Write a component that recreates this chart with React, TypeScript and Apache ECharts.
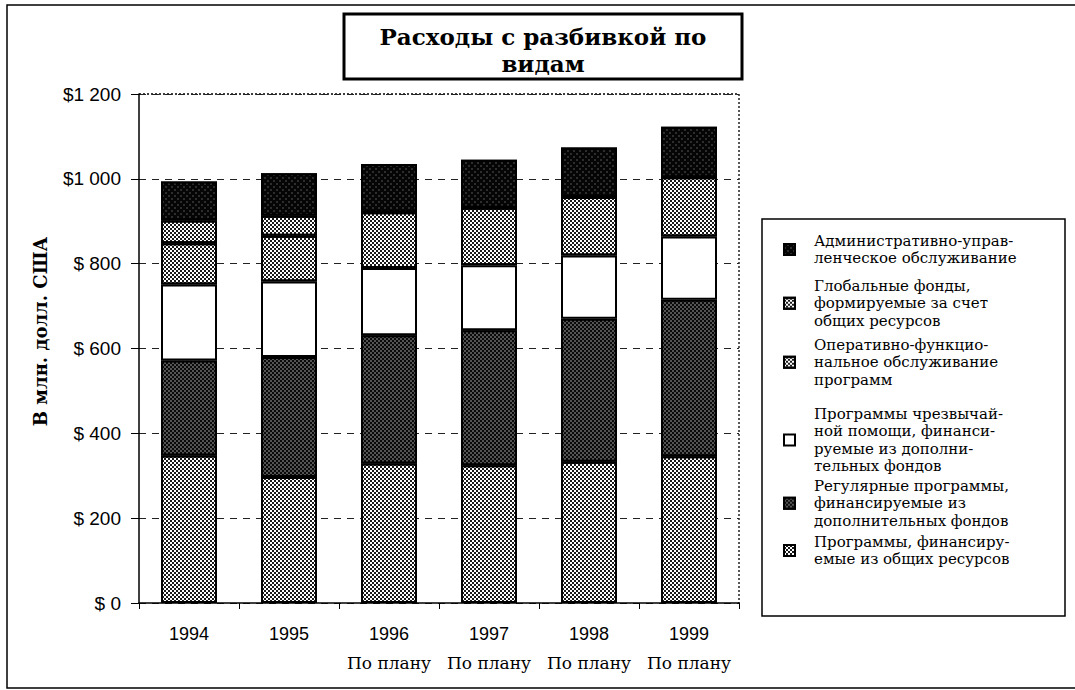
import React, { useEffect, useRef } from "react";
import * as echarts from "echarts";

const years = ["1994", "1995", "1996", "1997", "1998", "1999"];
const planned = [false, false, true, true, true, true];
const planLabel = "По плану";
const yTickValues = [0, 200, 400, 600, 800, 1000, 1200];

const programsGeneral = [348, 297, 329, 325, 333, 346];
const regularSupplementary = [224, 283, 302, 318, 337, 369];
const emergency = [179, 178, 159, 153, 149, 149];
const operational = [97, 108, 131, 136, 138, 140];
const globalFunds = [54, 47, 0, 0, 0, 0];
const admin = [92, 100, 114, 113, 117, 119];

const names = [
  "Административно-управ-\nленческое обслуживание",
  "Глобальные фонды,\nформируемые за счет\nобщих ресурсов",
  "Оперативно-функцио-\nнальное обслуживание\nпрограмм",
  "Программы чрезвычай-\nной помощи, финанси-\nруемые из дополни-\nтельных фондов",
  "Регулярные программы,\nфинансируемые из\nдополнительных фондов",
  "Программы, финансиру-\nемые из общих ресурсов",
];
const legendTops = [232, 277, 336, 405, 477, 533];

const GRID = { left: 139, right: 336, top: 94, bottom: 87 };
const W = 1075;
const H = 690;

const lightDecal = {
  symbol: "rect",
  symbolSize: 0.9,
  color: "#000",
  dashArrayX: [[2, 2], [0, 2, 2, 0]],
  dashArrayY: [2, 0],
  rotation: 0,
};
const darkDecal = {
  symbol: "rect",
  symbolSize: 0.6,
  color: "#fff",
  dashArrayX: [[2, 2], [0, 2, 2, 0]],
  dashArrayY: [2, 0],
  rotation: 0,
};
const adminDecal = {
  symbol: "rect",
  symbolSize: 0.6,
  color: "#8a8a8a",
  dashArrayX: [[2, 4], [0, 3, 2, 1]],
  dashArrayY: [2, 1],
  rotation: 0,
};

function fmtY(v: number) {
  if (v >= 1000) {
    const s = String(v);
    return "$" + s.slice(0, s.length - 3) + " " + s.slice(-3);
  }
  return "$ " + v;
}

export default function App() {
  const ref = useRef<HTMLDivElement>(null);
  useEffect(() => {
    if (!ref.current) return;
    const chart = echarts.init(ref.current, null, { renderer: "svg" });

    const mk = (name: string, data: number[], color: string, decal: any) => ({
      name,
      type: "bar",
      stack: "total",
      data,
      barWidth: 56,
      itemStyle: {
        color,
        borderColor: "#000",
        borderWidth: 2,
        decal: decal || undefined,
      },
    });

    const series = [
      mk(names[5], programsGeneral, "#ffffff", lightDecal),
      mk(names[4], regularSupplementary, "#0a0a0a", darkDecal),
      mk(names[3], emergency, "#ffffff", null),
      mk(names[2], operational, "#ffffff", lightDecal),
      mk(names[1], globalFunds, "#ffffff", lightDecal),
      mk(names[0], admin, "#050505", adminDecal),
    ];

    const legends = names.map((n, i) => ({
      data: [n],
      orient: "vertical",
      left: 783,
      top: legendTops[i],
      padding: 0,
      icon: "rect",
      itemWidth: 11,
      itemHeight: 11,
      selectedMode: false,
      textStyle: {
        fontFamily: "DejaVu Serif",
        fontSize: 15,
        lineHeight: 17.5,
        color: "#000",
        padding: [0, 0, 0, 14],
      },
    }));

    const plotRight = W - GRID.right;
    const plotBottom = H - GRID.bottom;

    chart.setOption({
      animation: false,
      backgroundColor: "#fff",
      aria: { enabled: false },
      grid: { ...GRID, containLabel: false },
      legend: legends,
      xAxis: {
        type: "category",
        data: years,
        axisLine: { lineStyle: { color: "#000", width: 1.5 } },
        axisTick: { show: true, length: 6, lineStyle: { color: "#000" } },
        axisLabel: {
          margin: 16,
          interval: 0,
          formatter: (v: string, idx: number) =>
            planned[idx] ? `{y|${v}}\n{p|${planLabel}}` : `{y|${v}}`,
          rich: {
            y: {
              fontFamily: "Liberation Sans",
              fontSize: 18,
              lineHeight: 29,
              color: "#000",
            },
            p: {
              fontFamily: "DejaVu Serif",
              fontSize: 17,
              lineHeight: 29,
              color: "#000",
            },
          },
        },
      },
      yAxis: {
        type: "value",
        min: yTickValues[0],
        max: yTickValues[yTickValues.length - 1],
        interval: 200,
        name: "В млн. долл. США",
        nameLocation: "middle",
        nameRotate: 90,
        nameGap: 90,
        nameTextStyle: {
          fontFamily: "DejaVu Serif",
          fontWeight: "bold",
          fontSize: 18,
          color: "#000",
          padding: [0, 0, 0, 34],
        },
        axisLine: { show: true, lineStyle: { color: "#000", width: 1.5 } },
        axisTick: { show: true, length: 8, lineStyle: { color: "#000" } },
        axisLabel: {
          margin: 18,
          formatter: (v: number) => fmtY(v),
          fontFamily: "Liberation Sans",
          fontSize: 19,
          color: "#000",
        },
        splitLine: {
          show: true,
          lineStyle: { color: "#222", width: 1.2, type: [7, 6] },
        },
      },
      series,
      graphic: [
        {
          type: "polyline",
          silent: true,
          shape: {
            points: [
              [W, 5],
              [7, 5],
              [7, 688],
              [W, 688],
            ],
          },
          style: { stroke: "#000", lineWidth: 1.5, fill: null },
        },
        {
          type: "polyline",
          silent: true,
          shape: {
            points: [
              [GRID.left, GRID.top],
              [plotRight, GRID.top],
              [plotRight, plotBottom],
            ],
          },
          style: { stroke: "#000", lineWidth: 1.3, fill: null, lineDash: [2, 2] },
        },
        {
          type: "rect",
          silent: true,
          shape: { x: 344, y: 14, width: 398, height: 65 },
          style: { stroke: "#000", lineWidth: 3, fill: "#fff" },
        },
        {
          type: "text",
          silent: true,
          x: 543,
          y: 50,
          style: {
            text: "Расходы с разбивкой по\nвидам",
            fontFamily: "DejaVu Serif",
            fontWeight: "bold",
            fontSize: 23,
            lineHeight: 27,
            fill: "#000",
            align: "center",
            verticalAlign: "middle",
          },
        },
        {
          type: "rect",
          silent: true,
          z: -1,
          shape: { x: 762, y: 219, width: 303, height: 397 },
          style: { stroke: "#000", lineWidth: 1.5, fill: "#fff" },
        },
      ],
    });
    return () => chart.dispose();
  }, []);
  return (
    <div
      ref={ref}
      style={{ position: "fixed", left: 0, top: 0, width: W, height: H }}
    />
  );
}
